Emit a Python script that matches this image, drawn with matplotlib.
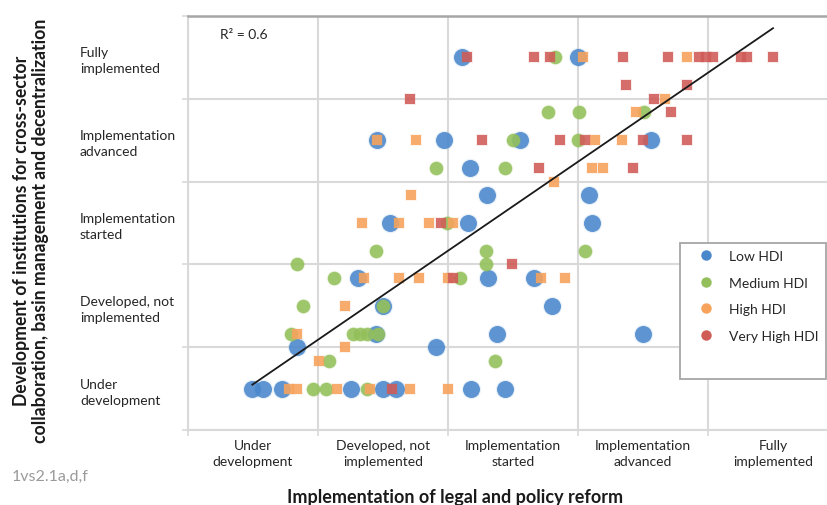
import matplotlib
matplotlib.use("Agg")
import matplotlib.pyplot as plt
from matplotlib.lines import Line2D
from matplotlib.patches import Rectangle

plt.rcParams['font.family'] = ['Lato', 'DejaVu Sans']

# 카테고리 라벨 (두 축 공통)
levels = ["Under\ndevelopment", "Developed, not\nimplemented", "Implementation\nstarted",
          "Implementation\nadvanced", "Fully\nimplemented"]
level_pos = [10, 30, 50, 70, 90]

# Low HDI
low_x = [42.1, 60.0, 29.0, 39.4, 51.1, 71.3, 43.4, 46.0, 61.7, 31.0, 43.0, 62.1, 26.1, 46.1, 53.3,
         30.0, 56.0, 28.9, 47.6, 70.0, 16.7, 38.1, 9.9, 11.6, 14.4, 25.0, 30.0, 32.0, 43.5, 48.8]
low_y = [90, 90, 70, 70, 70, 70, 63.3, 56.7, 56.7, 50, 50, 50, 36.7, 36.7, 36.7,
         30, 30, 23.3, 23.3, 23.3, 20, 20, 10, 10, 10, 10, 10, 10, 10, 10]

# Medium HDI
med_x = [56.5, 55.4, 60.1, 70.2, 50.0, 60.0, 38.1, 48.8, 39.9, 28.9, 45.8, 61.1, 16.7, 45.8,
         22.5, 41.8, 17.7, 30.0, 15.9, 25.4, 26.5, 27.6, 29.2, 21.7, 47.2, 19.3, 21.2, 27.6]
med_y = [90, 76.7, 76.7, 76.7, 70, 70, 63.3, 63.3, 50, 43.3, 43.3, 43.3, 40, 40,
         36.7, 36.7, 30, 30, 23.3, 23.3, 23.3, 23.3, 23.3, 16.7, 16.7, 10, 10, 10]

# High HDI
high_x = [60.8, 76.8, 73.4, 68.9, 29.0, 35.1, 62.6, 66.7, 62.1, 63.9, 56.3, 34.3, 26.8, 32.5, 37.1, 40.7,
          27.0, 32.4, 35.6, 40.0, 54.3, 58.0, 24.2, 16.8, 24.2, 20.1, 15.5, 16.7, 22.9, 28.0, 34.2, 40.0]
high_y = [90, 90, 80, 76.7, 70, 70, 70, 70, 63.3, 63.3, 60, 56.7, 50, 50, 50, 50,
          36.7, 36.7, 36.7, 36.7, 36.7, 36.7, 30, 23.3, 20, 16.7, 10, 10, 10, 10, 10, 10]

# Very High HDI
vhigh_x = [42.9, 53.2, 55.7, 66.9, 73.9, 78.6, 79.7, 80.8, 85.0, 86.0, 90.0, 67.4, 76.8, 34.1,
           71.7, 74.3, 45.2, 57.2, 61.1, 70.0, 76.8, 54.0, 68.5, 38.9, 49.9, 40.7, 31.4]
vhigh_y = [90, 90, 90, 90, 90, 90, 90, 90, 90, 90, 90, 83.3, 83.3, 80,
           80, 76.7, 70, 70, 70, 70, 70, 63.3, 63.3, 50, 40, 36.7, 10]

# 선형 추세선 (그림에 표시된 값)
trend_slope = 1.075
trend_intercept = 0.3
r2_text = "R² = 0.6"

series = [
    ("Low HDI", low_x, low_y, "#4a88cc", "o", 150),
    ("Medium HDI", med_x, med_y, "#93c05a", "o", 95),
    ("High HDI", high_x, high_y, "#f7a35c", "s", 62),
    ("Very High HDI", vhigh_x, vhigh_y, "#d05c58", "s", 50),
]

W, H = 827, 506
fig = plt.figure(figsize=(W / 100, H / 100), dpi=100)
ax = fig.add_axes([188 / W, (H - 431) / H, 650 / W, 414 / H])

for name, xs, ys, col, mk, s in series:
    # 가장자리를 살짝 흐리게
    ax.scatter(xs, ys, s=s * 1.3, marker=mk, color=col, alpha=0.12, linewidths=0, zorder=3)
    ax.scatter(xs, ys, s=s, marker=mk, color=col, alpha=0.88, linewidths=0, zorder=3)

all_x = low_x + med_x + high_x + vhigh_x
x0, x1 = min(all_x), max(all_x)
ax.plot([x0, x1], [trend_intercept + trend_slope * x0, trend_intercept + trend_slope * x1],
        color="#1a1a1a", lw=1.3, zorder=4)

ax.set_xlim(0, 100)
ax.set_ylim(0, 100)
ax.set_xticks(range(0, 101, 20))
ax.set_yticks(range(0, 101, 20))
ax.set_xticklabels([])
ax.set_yticklabels([])
ax.grid(True, color="#d9d9d9", lw=1.5, zorder=0)
ax.set_axisbelow(True)
ax.tick_params(which="major", direction="out", length=4, width=1.2, color="#d9d9d9")

ax.set_xticks(level_pos, levels, minor=True)
ax.set_yticks(level_pos, levels, minor=True)
ax.tick_params(which="minor", length=0, labelsize=10, labelcolor="#262626")
ax.tick_params(axis="x", which="minor", pad=6.5)
ax.tick_params(axis="y", which="minor", pad=77.8)
for lbl in ax.get_yticklabels(minor=True):
    lbl.set_horizontalalignment("left")
    lbl.set_linespacing(1.4)
for lbl in ax.get_xticklabels(minor=True):
    lbl.set_linespacing(1.4)

for side in ["left", "bottom"]:
    ax.spines[side].set_color("#d9d9d9")
    ax.spines[side].set_linewidth(1.5)
ax.spines["top"].set_color("#a6a6a6")
ax.spines["top"].set_linewidth(1.8)
ax.spines["right"].set_visible(False)

fig.text(220 / W, 1 - 35 / H, r2_text, fontsize=10, color="#262626", va="center")

# 축 제목
fig.text(31 / W, 1 - 231 / H,
         "Development of institutions for cross-sector\ncollaboration, basin management and decentralization",
         rotation=90, ha="center", va="center", fontsize=12.7, fontweight="bold",
         color="#1a1a1a", linespacing=1.2)
fig.text(455 / W, 1 - 498 / H, "Implementation of legal and policy reform",
         ha="center", va="center", fontsize=13, fontweight="bold", color="#1a1a1a")
fig.text(12 / W, 1 - 477 / H, "1vs2.1a,d,f", ha="left", va="center", fontsize=11.5, color="#9a9a9a")

# 범례 박스
fig.patches.append(Rectangle((680 / W, 1 - 380 / H), 146 / W, 136 / H, transform=fig.transFigure,
                             facecolor="white", edgecolor="#a6a6a6", lw=1.3, zorder=5))
handles = [Line2D([], [], ls="none", marker="o", markersize=7.5, color=col, markeredgewidth=0)
           for _, _, _, col, _, _ in series]
fig.legend(handles, [s[0] for s in series], loc="upper left",
           bbox_to_anchor=(680 / W, 1 - 244 / H), frameon=False, fontsize=10,
           borderaxespad=0, borderpad=0.5, handlelength=2.7, handletextpad=0.3,
           labelspacing=1.05, labelcolor="#262626")

fig.savefig("out.png", dpi=100)
